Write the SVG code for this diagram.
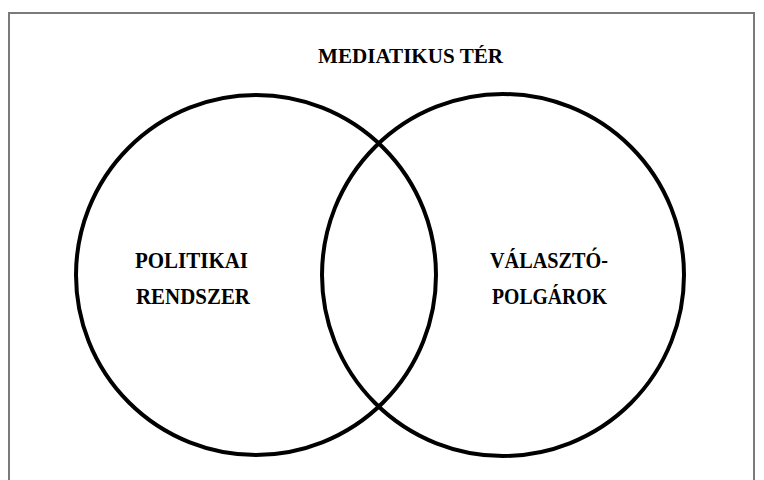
<svg xmlns="http://www.w3.org/2000/svg" width="764" height="480" viewBox="0 0 764 480">
<style>
.frame{fill:none;stroke:#7a7a7a;stroke-width:2}
.set{fill:none;stroke:#000;stroke-width:4}
.lbl{font-family:"Liberation Serif","DejaVu Serif",serif;font-weight:bold;font-size:23px;fill:#000}
.title{font-family:"Liberation Serif","DejaVu Serif",serif;font-weight:bold;font-size:22px;fill:#000}
</style>
<rect width="764" height="480" fill="#fff"/>
<g id="media-space">
<rect class="frame" x="9" y="13" width="745" height="500"/>
<text class="title" x="318" y="63" textLength="185" lengthAdjust="spacingAndGlyphs">MEDIATIKUS TÉR</text>
</g>
<g id="political-system">
<circle class="set" cx="256" cy="275" r="180"/>
<text class="lbl" x="135" y="268" textLength="113" lengthAdjust="spacingAndGlyphs">POLITIKAI</text>
<text class="lbl" x="136" y="304" textLength="114" lengthAdjust="spacingAndGlyphs">RENDSZER</text>
</g>
<g id="voters">
<circle class="set" cx="503" cy="275" r="181"/>
<text class="lbl" x="490" y="268" textLength="118" lengthAdjust="spacingAndGlyphs">VÁLASZTÓ-</text>
<text class="lbl" x="492" y="304" textLength="115" lengthAdjust="spacingAndGlyphs">POLGÁROK</text>
</g>
<g id="connectors"/>
</svg>
